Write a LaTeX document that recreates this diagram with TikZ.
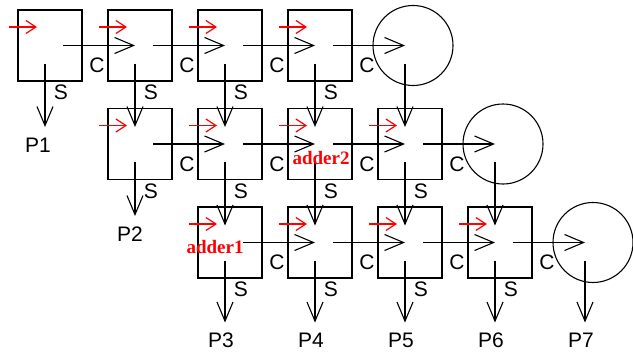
\documentclass[tikz,border=0pt]{standalone}
\usepackage{fontspec}
\setmainfont{Liberation Sans}
\newfontfamily\tagfont{Liberation Serif}
\usetikzlibrary{arrows.meta,calc}
\begin{document}
\begin{tikzpicture}[x=1pt,y=-1pt,
  cell/.style={draw,line width=1.1pt,minimum width=64pt,minimum height=71pt,inner sep=0pt,outer sep=0pt},
  ring/.style={draw,circle,line width=1.1pt,minimum size=80pt,inner sep=0pt,outer sep=0pt},
  wire/.style={line width=1.1pt,-{Straight Barb[length=19pt,width=16pt]}},
  feed/.style={red,line width=1.2pt,-{Straight Barb[length=10pt,width=13pt]}},
  lbl/.style={font=\fontsize{21}{24}\selectfont,inner sep=0pt},
  plbl/.style={font=\fontsize{21}{24}\selectfont,inner sep=0pt},
  tag/.style={text=red,font=\tagfont\bfseries\fontsize{19}{22}\selectfont,inner sep=0pt}]
\useasboundingbox (0,0) rectangle (633,356);

% three rows of adder cells, each row closed by a circle
\foreach \r in {0,1,2}{
  \foreach \k in {0,1,2,3}{
    \pgfmathtruncatemacro\c{\r+\k}
    \node[cell] (n-\r-\c) at ({50+90*\c},{45.5+98.5*\r}) {};
    \coordinate (hi-\r-\c) at ([xshift=-5pt]n-\r-\c.center);
    \coordinate (ho-\r-\c) at ([xshift=13pt]n-\r-\c.center);
    \coordinate (vi-\r-\c) at ([xshift=-5pt,yshift=17pt]n-\r-\c.center);
    \coordinate (vo-\r-\c) at ([xshift=-5pt,yshift=-18pt]n-\r-\c.center);
    \coordinate (fd-\r-\c) at ([xshift=-9pt,yshift=-17pt]n-\r-\c.north west);
    \coordinate (ft-\r-\c) at ([xshift=19pt,yshift=-17pt]n-\r-\c.north west);
    \draw[feed] (fd-\r-\c) -- (ft-\r-\c);
    \node[lbl] at ([xshift=11pt,yshift=-47pt]n-\r-\c.center) {S};
    \node[lbl] at ([xshift=47pt,yshift=-20pt]n-\r-\c.center) {C};
  }
  \pgfmathtruncatemacro\c{\r+4}
  \node[ring] (n-\r-\c) at ({53+90*\c},{45.5+98.5*\r}) {};
  \coordinate (hi-\r-\c) at ([xshift=-8pt]n-\r-\c.center);
  \coordinate (vo-\r-\c) at ([xshift=-8pt,yshift=-18pt]n-\r-\c.center);
}

% carries along each row
\foreach \r in {0,1,2}{
  \foreach \k in {0,1,2,3}{
    \pgfmathtruncatemacro\c{\r+\k}
    \pgfmathtruncatemacro\d{\r+\k+1}
    \draw[wire] (ho-\r-\c) -- (hi-\r-\d);
  }
}

% sums passed down to the next row
\foreach \r in {0,1}{
  \pgfmathtruncatemacro\s{\r+1}
  \foreach \k in {1,2,3,4}{
    \pgfmathtruncatemacro\c{\r+\k}
    \draw[wire] (vo-\r-\c) -- (vi-\s-\c);
  }
}

% product outputs
\coordinate (t1) at (45,127);
\coordinate (t2) at (135,216);
\node[plbl] (P1) at ([xshift=-7pt,yshift=-18pt]t1) {P1};
\node[plbl] (P2) at ([xshift=-5pt,yshift=-18pt]t2) {P2};
\draw[wire] (vo-0-0) -- (t1);
\draw[wire] (vo-1-1) -- (t2);
\foreach \c/\p in {2/3,3/4,4/5,5/6,6/7}{
  \coordinate (t\p) at ($(vo-2-\c)+(0,62)$);
  \draw[wire] (vo-2-\c) -- (t\p);
  \node[plbl] (P\p) at ([xshift=-4pt,yshift=-18pt]t\p) {P\p};
}

% cell tags
\node[tag] (tag2) at ([xshift=1pt,yshift=-14.5pt]n-1-3.center) {adder2};
\node[tag] (tag1) at ([xshift=-15pt,yshift=-4.5pt]n-2-2.center) {adder1};
\end{tikzpicture}
\end{document}
